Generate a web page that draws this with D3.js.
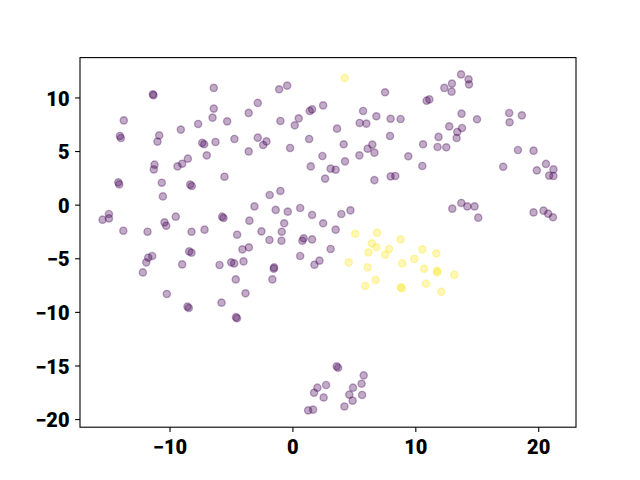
<!DOCTYPE html>
<html>
<head>
<meta charset="utf-8">
<script src="https://cdn.jsdelivr.net/npm/d3@7"></script>
<style>
  html, body { margin: 0; padding: 0; background: #fff; }
  .tick text { font-family: Roboto, "Liberation Sans", sans-serif; font-weight: 900; font-size: 20px; fill: #000; }
</style>
</head>
<body>
<div id="chart"></div>
<script>
// cluster 0 (purple) points: [x, y]
const purplePoints = [
  [-6.40, 10.89], [-11.36, 10.29], [-11.30, 10.22], [-6.40, 8.96], [-6.50, 8.12],
  [-13.72, 7.86], [-7.67, 7.53], [-5.31, 7.77], [-3.56, 8.56], [-9.08, 7.00],
  [-10.84, 6.46], [-10.98, 5.88], [-14.04, 6.41], [-13.96, 6.22], [-7.34, 5.76],
  [-7.18, 5.63], [-6.26, 5.85], [-4.72, 6.13], [-3.56, 4.97], [-6.97, 4.60],
  [-8.51, 4.29], [-8.97, 3.82], [-9.35, 3.57], [-11.22, 3.73], [-11.28, 3.29],
  [-5.53, 2.61], [-14.17, 2.08], [-14.09, 1.89], [-10.63, 2.05], [-8.32, 1.87],
  [-8.19, 1.74], [-1.08, 10.76], [-0.43, 11.10], [7.54, 10.48], [-2.82, 9.49],
  [2.50, 9.26], [1.60, 8.89], [1.41, 8.74], [5.75, 8.74], [-0.98, 7.81],
  [0.51, 8.05], [0.19, 7.40], [5.47, 7.62], [6.02, 7.56], [6.83, 8.24],
  [7.99, 8.02], [8.80, 7.99], [3.63, 7.09], [7.94, 6.41], [-2.82, 6.25],
  [-2.11, 5.90], [-2.38, 5.57], [1.36, 6.13], [-0.19, 5.29], [4.17, 5.63],
  [6.50, 5.60], [6.12, 5.22], [6.67, 4.85], [5.45, 4.60], [2.44, 4.54],
  [9.43, 4.51], [4.28, 4.04], [1.49, 3.57], [3.11, 3.36], [3.52, 3.26],
  [2.66, 2.43], [6.67, 2.29], [7.99, 2.64], [8.37, 2.68], [13.72, 12.15],
  [14.33, 11.69], [14.37, 11.22], [12.98, 11.29], [12.36, 10.89], [12.95, 10.54],
  [11.14, 9.82], [10.92, 9.70], [13.76, 8.49], [15.02, 7.96], [17.64, 8.55],
  [18.67, 8.33], [17.67, 7.68], [12.76, 7.30], [13.80, 7.15], [13.41, 6.78],
  [13.36, 6.22], [11.89, 6.32], [10.63, 5.63], [11.81, 5.38], [12.52, 5.35],
  [10.57, 3.61], [17.15, 3.54], [18.35, 5.10], [19.62, 5.04], [20.63, 3.80],
  [19.89, 3.20], [21.24, 3.29], [20.89, 2.71], [21.24, 2.68], [-10.54, 0.77],
  [-14.93, -0.87], [-14.93, -1.28], [-15.45, -1.40], [-13.76, -2.43], [-11.79, -2.52],
  [-10.41, -1.65], [-10.27, -1.96], [-9.49, -1.12], [-5.72, -1.12], [-5.61, -1.24],
  [-3.50, -1.49], [-8.21, -2.52], [-7.15, -2.33], [-4.50, -2.80], [-4.07, -4.17],
  [-3.54, -3.98], [-8.40, -4.36], [-8.21, -4.48], [-11.41, -4.79], [-11.73, -4.94],
  [-11.89, -5.38], [-12.17, -6.32], [-8.97, -5.57], [-5.93, -5.63], [-4.98, -5.38],
  [-4.74, -5.48], [-3.98, -5.29], [-4.61, -6.97], [-3.82, -8.27], [-10.22, -8.33],
  [-5.77, -9.14], [-8.54, -9.51], [-8.43, -9.64], [-4.59, -10.49], [-4.51, -10.59],
  [-1.85, 0.90], [-0.98, 1.28], [-3.09, -0.16], [-1.36, -0.49], [-0.38, -0.65],
  [0.63, -0.31], [1.60, -0.96], [-0.67, -1.74], [2.50, -1.74], [3.98, -0.87],
  [4.72, -0.53], [-2.52, -2.49], [-0.87, -2.52], [-0.89, -3.36], [-1.87, -3.29],
  [0.92, -3.14], [0.81, -3.36], [1.60, -3.24], [3.52, -2.33], [3.11, -4.13],
  [0.63, -4.79], [2.20, -5.22], [1.79, -5.60], [-1.49, -5.85], [-1.52, -5.97],
  [-1.63, -6.97], [13.01, -0.37], [13.74, 0.16], [14.23, -0.16], [14.82, -0.16],
  [15.12, -1.21], [19.62, -0.72], [20.43, -0.56], [20.81, -0.84], [21.20, -1.18],
  [3.60, -15.08], [3.72, -15.21], [5.80, -15.92], [5.63, -16.70], [4.93, -17.07],
  [4.63, -17.72], [4.90, -18.28], [5.67, -17.75], [4.23, -18.82], [2.74, -16.82],
  [2.03, -17.07], [1.76, -17.54], [2.54, -17.98], [1.28, -19.19], [1.68, -19.12]
];

// cluster 1 (yellow) points: [x, y]
const yellowPoints = [
  [4.25, 11.82], [5.12, -2.71], [6.89, -2.61], [8.80, -3.24], [6.45, -3.61],
  [6.83, -3.98], [6.18, -4.45], [7.86, -4.13], [7.54, -4.66], [4.58, -5.38],
  [6.12, -5.85], [8.94, -5.48], [9.92, -5.06], [6.77, -7.02], [5.93, -7.58],
  [8.82, -7.70], [8.90, -7.79], [10.57, -4.17], [11.71, -4.54], [10.71, -5.97],
  [11.76, -6.16], [11.79, -6.32], [13.17, -6.53], [10.87, -7.37], [12.11, -8.12]
];

const xTicks = [-10, 0, 10, 20];
const yTicks = [-20, -15, -10, -5, 0, 5, 10];

const width = 640, height = 480;
const margin = {top: 57.6, right: 64, bottom: 52.8, left: 80};
const innerW = width - margin.left - margin.right;
const innerH = height - margin.top - margin.bottom;

const allPoints = purplePoints.concat(yellowPoints);

// matplotlib-style 5% data margins
function padded(ext) {
  const r = ext[1] - ext[0];
  return [ext[0] - 0.05 * r, ext[1] + 0.05 * r];
}

const x = d3.scaleLinear()
  .domain(padded(d3.extent(allPoints, d => d[0])))
  .range([0, innerW]);

const y = d3.scaleLinear()
  .domain(padded(d3.extent(allPoints, d => d[1])))
  .range([innerH, 0]);

const svg = d3.select('#chart').append('svg')
  .attr('width', width)
  .attr('height', height)
  .append('g')
  .attr('transform', `translate(${margin.left},${margin.top})`);

const groups = [
  {points: purplePoints, color: '#440154'},
  {points: yellowPoints, color: '#fde725'}
];

groups.forEach(g => {
  svg.append('g')
    .selectAll('circle')
    .data(g.points)
    .enter().append('circle')
    .attr('cx', d => x(d[0]))
    .attr('cy', d => y(d[1]))
    .attr('r', 3.6)
    .attr('fill', g.color)
    .attr('fill-opacity', 0.33)
    .attr('stroke', g.color)
    .attr('stroke-opacity', 0.33)
    .attr('stroke-width', 1.4);
});

const minus = d => d < 0 ? '\u2212' + Math.abs(d) : d;

const xAxis = svg.append('g')
  .attr('transform', `translate(0,${innerH})`)
  .call(d3.axisBottom(x).tickValues(xTicks).tickSize(4.9).tickSizeOuter(0).tickPadding(8).tickFormat(minus));

const yAxis = svg.append('g')
  .call(d3.axisLeft(y).tickValues(yTicks).tickSize(4.9).tickSizeOuter(0).tickPadding(5.6).tickFormat(minus));

yAxis.selectAll('.tick text').attr('dy', '0.38em');

[xAxis, yAxis].forEach(a => {
  a.select('.domain').remove();
  a.selectAll('.tick line').attr('stroke', '#000').attr('stroke-width', 1.1);
});

// frame
svg.append('rect')
  .attr('x', 0)
  .attr('y', 0)
  .attr('width', innerW)
  .attr('height', innerH)
  .attr('fill', 'none')
  .attr('stroke', '#000')
  .attr('stroke-width', 1.1);
</script>
</body>
</html>
